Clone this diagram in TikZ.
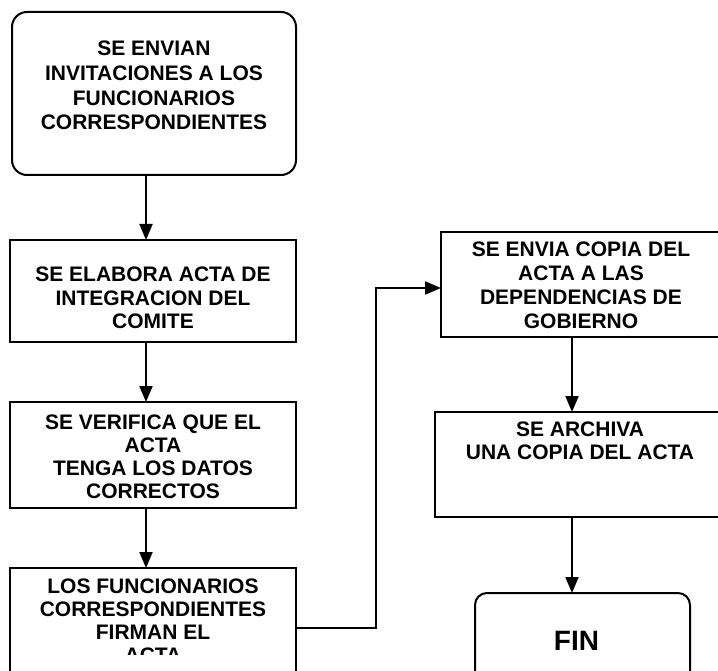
\documentclass[tikz,border=0pt]{standalone}
\usepackage{fontspec}
\setmainfont{Liberation Sans}
\usetikzlibrary{arrows.meta,calc}
\setlength{\parskip}{0pt}
\newcommand{\btext}[5]{\begin{minipage}[c][#2][t]{#1}\centering\bfseries\fontsize{21}{#4}\selectfont\vspace*{#3}#5\end{minipage}}
\begin{document}
\begin{tikzpicture}[x=1pt,y=-1pt,
  stepbox/.style={draw=black, line width=2pt, inner sep=0pt, outer sep=0pt, fill=white},
  arr/.style={line width=2pt, -{Triangle[width=13pt,length=16pt]}}]
\clip (0,0) rectangle (718,671);
\fill[white] (0,0) rectangle (718,671);
% left column
\node[stepbox, rounded corners=15pt] (n1) at (154,93.5)
  {\btext{284pt}{163pt}{29pt}{24.7pt}{SE ENVIAN\\INVITACIONES A LOS\\FUNCIONARIOS\\CORRESPONDIENTES}};
\node[stepbox] (n2) at (153,291)
  {\btext{286pt}{102pt}{27pt}{23.5pt}{SE ELABORA ACTA DE\\INTEGRACION DEL\\COMITE}};
\node[stepbox] (n3) at (153,455)
  {\btext{286pt}{106pt}{13pt}{23pt}{SE VERIFICA QUE EL\\ACTA\\TENGA LOS DATOS\\CORRECTOS}};
\node[stepbox] (n4) at (153,634)
  {\btext{286pt}{132pt}{11pt}{23pt}{LOS FUNCIONARIOS\\CORRESPONDIENTES\\FIRMAN EL\\ACTA}};
\fill[white] (12,655) rectangle (294,672);
% right column
\node[stepbox] (n5) at (581,284.5)
  {\btext{280pt}{105pt}{10pt}{24pt}{SE ENVIA COPIA DEL\\ACTA A LAS\\DEPENDENCIAS DE\\GOBIERNO}};
\node[stepbox] (n6) at (580,464.5)
  {\btext{290pt}{105pt}{10pt}{23pt}{SE ARCHIVA\\UNA COPIA DEL ACTA}};
\node[stepbox, rounded corners=12pt, minimum width=215pt, minimum height=95pt,
  font=\bfseries\fontsize{28}{32}\selectfont] (n7) at (582.5,640.5) {\hspace*{-12pt}FIN};
% connectors
\draw[arr] ([xshift=-8pt]n1.south) -- ([xshift=-8pt]n1.south |- n2.north);
\draw[arr] ([xshift=-7pt]n2.south) -- ([xshift=-7pt]n2.south |- n3.north);
\draw[arr] ([xshift=-7pt]n3.south) -- ([xshift=-7pt]n3.south |- n4.north);
\coordinate (bend) at (376,288);
\draw[arr] ([yshift=6pt]n4.east) -| (bend) -- (bend -| n5.west);
\draw[arr] ([xshift=-9pt]n5.south) -- ([xshift=-9pt]n5.south |- n6.north);
\draw[arr] ([xshift=-8pt]n6.south) -- ([xshift=-8pt]n6.south |- n7.north);
\end{tikzpicture}
\end{document}
